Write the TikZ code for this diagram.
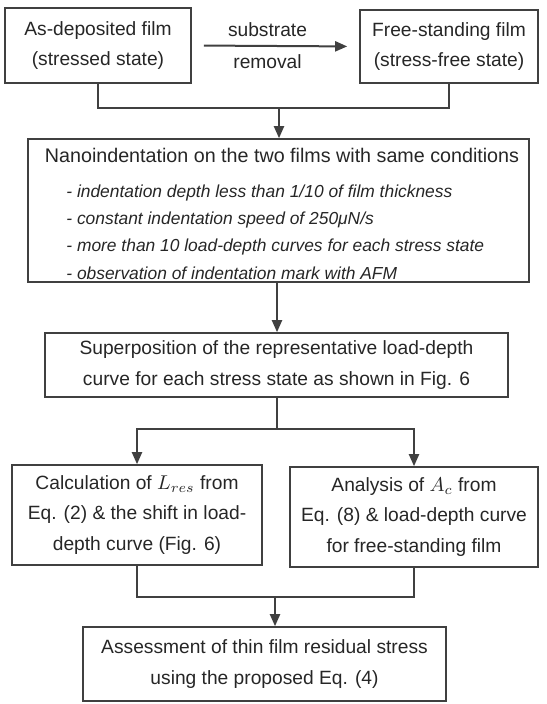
\documentclass[tikz,border=0pt]{standalone}
\usepackage{fontspec}
\setmainfont{Liberation Sans}
\usepackage{tikz}
\usetikzlibrary{arrows.meta}

\tikzset{
  box/.style={draw=black!75, line width=0.8pt, align=center, inner sep=0pt,
              font=\fontsize{9.6}{15.4}\selectfont, text=black!85},
  item/.style={anchor=west, inner sep=0pt, font=\fontsize{8.7}{11}\selectfont\itshape, text=black!85},
  link/.style={draw=black!75, line width=1pt},
  arr/.style={link, -{Triangle[length=6pt,width=5pt]}}
}

\begin{document}
\begin{tikzpicture}[x=0.5pt, y=-0.5pt]

   \useasboundingbox (0,0) rectangle (546,704);

   % top row
   \node[box, minimum width=93pt, minimum height=37.5pt] (dep) at (98,45.5)
        {As-deposited film\\(stressed state)};
   \node[box, minimum width=89pt, minimum height=36.5pt] (free) at (449,46.5)
        {Free-standing film\\(stress-free state)};

   \draw[arr, shorten <=6pt, shorten >=6pt] (dep.east) -- (free.west)
        node[midway, above=1pt, xshift=-4pt, font=\fontsize{9.6}{11}\selectfont, text=black!85] {substrate}
        node[midway, below=0.5pt, xshift=-4pt, font=\fontsize{9.6}{11}\selectfont, text=black!85] {removal};

   % nanoindentation
   \node[box, minimum width=250.5pt, minimum height=71.5pt] (nano) at (278.5,210.5) {};
   \node[box, draw=none, font=\fontsize{9.85}{12}\selectfont] (nanot) at (282,155)
        {Nanoindentation on the two films with same conditions};
   \node[item] (it1) at (66,193) {- indentation depth less than 1/10 of film thickness};
   \node[item] (it2) at (66,220) {- constant indentation speed of 250μN/s};
   \node[item] (it3) at (66,247) {- more than 10 load-depth curves for each stress state};
   \node[item] (it4) at (66,273) {- observation of indentation mark with AFM};

   \node[box, minimum width=231.5pt, minimum height=32pt] (sup) at (276.5,365)
        {Superposition of the representative load-depth\\curve for each stress state as shown in Fig. 6};

   \node[box, minimum width=125pt, minimum height=50pt] (calc) at (137,515)
        {Calculation of $L_{res}$ from\\Eq. (2) \& the shift in load-\\depth curve (Fig. 6)};
   \node[box, minimum width=124pt, minimum height=50pt] (ana) at (414,517)
        {Analysis of $A_c$ from\\Eq. (8) \& load-depth curve\\for free-standing film};

   \node[box, minimum width=181.5pt, minimum height=37pt] (ass) at (264.5,664)
        {Assessment of thin film residual stress\\using the proposed Eq. (4)};

   % connectors
   \coordinate (j1) at (279,108);
   \coordinate (j2) at (277,429);
   \coordinate (j3) at (275,597);

   \draw[link] (dep) |- (j1) -| (free);
   \draw[arr] (j1) -- (j1 |- nano.north);
   \draw[arr] (nano.south -| j2) -- (j2 |- sup.north);
   \draw[link] (sup.south -| j2) -- (j2);
   \draw[arr] (j2) -| (calc);
   \draw[arr] (j2) -| (ana);
   \draw[link] (calc) |- (j3) -| (ana);
   \draw[arr] (j3) -- (j3 |- ass.north);

\end{tikzpicture}
\end{document}
